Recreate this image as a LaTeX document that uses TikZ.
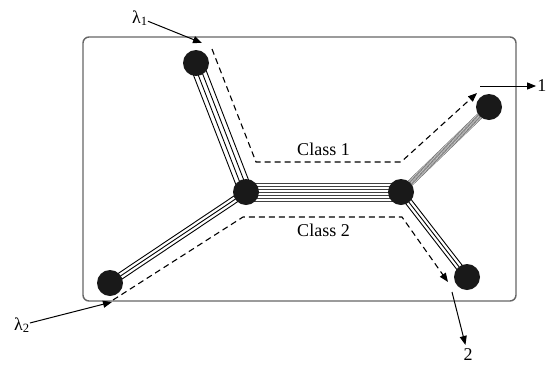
\documentclass[tikz,border=0pt]{standalone}
\usepackage{fontspec}
\setmainfont{Liberation Serif}
\usetikzlibrary{calc,arrows.meta}
\pgfdeclarelayer{bg}
\pgfsetlayers{bg,main}
\newcommand\drawbundle[5]{%
  \foreach \i in {1,...,#3}{%
    \pgfmathsetmacro\off{(\i-(#3+1)/2)*#4}%
    \draw[#5] ($(#1)!\off pt!90:(#2)$) -- ($(#2)!\off pt!-90:(#1)$);
  }}
\begin{document}
\begin{tikzpicture}[x=1pt,y=-1pt,
  dot/.style={circle,fill=black!90,minimum size=26pt,inner sep=0pt},
  frame/.style={draw=black!60,line width=1.4pt,rounded corners=6pt,inner sep=0pt},
  route/.style={dash pattern=on 6pt off 4pt,line width=1.1pt,-{Triangle[length=9pt,width=7pt]}},
  pointer/.style={line width=1pt,-{Triangle[length=9pt,width=7pt]}},
  lbl/.style={font=\fontsize{18}{21}\selectfont,inner sep=0pt},
  wire/.style={line width=0.9pt,black},
  finewire/.style={line width=0.7pt,black!75},
  hatchwire/.style={line width=0.5pt,black!60},
]
\useasboundingbox (0,0) rectangle (547,365);

% frame
\node[frame,minimum width=433pt,minimum height=264pt] (box) at (299.5,169) {};

% nodes
\node[dot] (A) at (196,63) {};
\node[dot] (B) at (246,192) {};
\node[dot] (C) at (401,192) {};
\node[dot] (D) at (489,107) {};
\node[dot] (E) at (467,277) {};
\node[dot] (F) at (110,283) {};

% links
\begin{pgfonlayer}{bg}
  \drawbundle{A}{B}{4}{4.5}{wire}
  \drawbundle{B}{C}{7}{3}{finewire}
  \drawbundle{B}{F}{3}{3.4}{wire}
  \drawbundle{C}{E}{3}{3.4}{wire}
  \drawbundle{C}{D}{7}{1}{hatchwire}
\end{pgfonlayer}

% labels
\node[lbl] at (323.5,149) (cl1) {Class 1};
\node[lbl] at (323.5,230) (cl2) {Class 2};
\node[lbl] at (140,18) (l1) {λ\textsubscript{1}};
\node[lbl] at (22,325) (l2) {λ\textsubscript{2}};
\node[lbl,anchor=east] at (546.5,86) (o1) {1};
\node[lbl] at (468,355) (o2) {2};

% class routes
\coordinate (r1a) at (212,49);
\coordinate (r1b) at (256,162);
\coordinate (r1c) at (401,162);
\coordinate (r1d) at (477,93);
\draw[route] (r1a) -- (r1b) -- (r1c) -- (r1d);

\coordinate (r2a) at (113,300);
\coordinate (r2b) at (243,217);
\coordinate (r2c) at (402,217);
\coordinate (r2d) at (448,282);
\draw[route] (r2a) -- (r2b) -- (r2c) -- (r2d);

% input/output arrows
\coordinate (t1) at (202,43);
\coordinate (t2) at (112,302);
\coordinate (s1) at (480,86);
\coordinate (s2) at (452,292);
\draw[pointer] (l1) -- (t1);
\draw[pointer] (l2) -- (t2);
\draw[pointer,shorten >=1pt] (s1) -- (o1);
\draw[pointer,shorten >=4pt] (s2) -- (o2);
\end{tikzpicture}
\end{document}
